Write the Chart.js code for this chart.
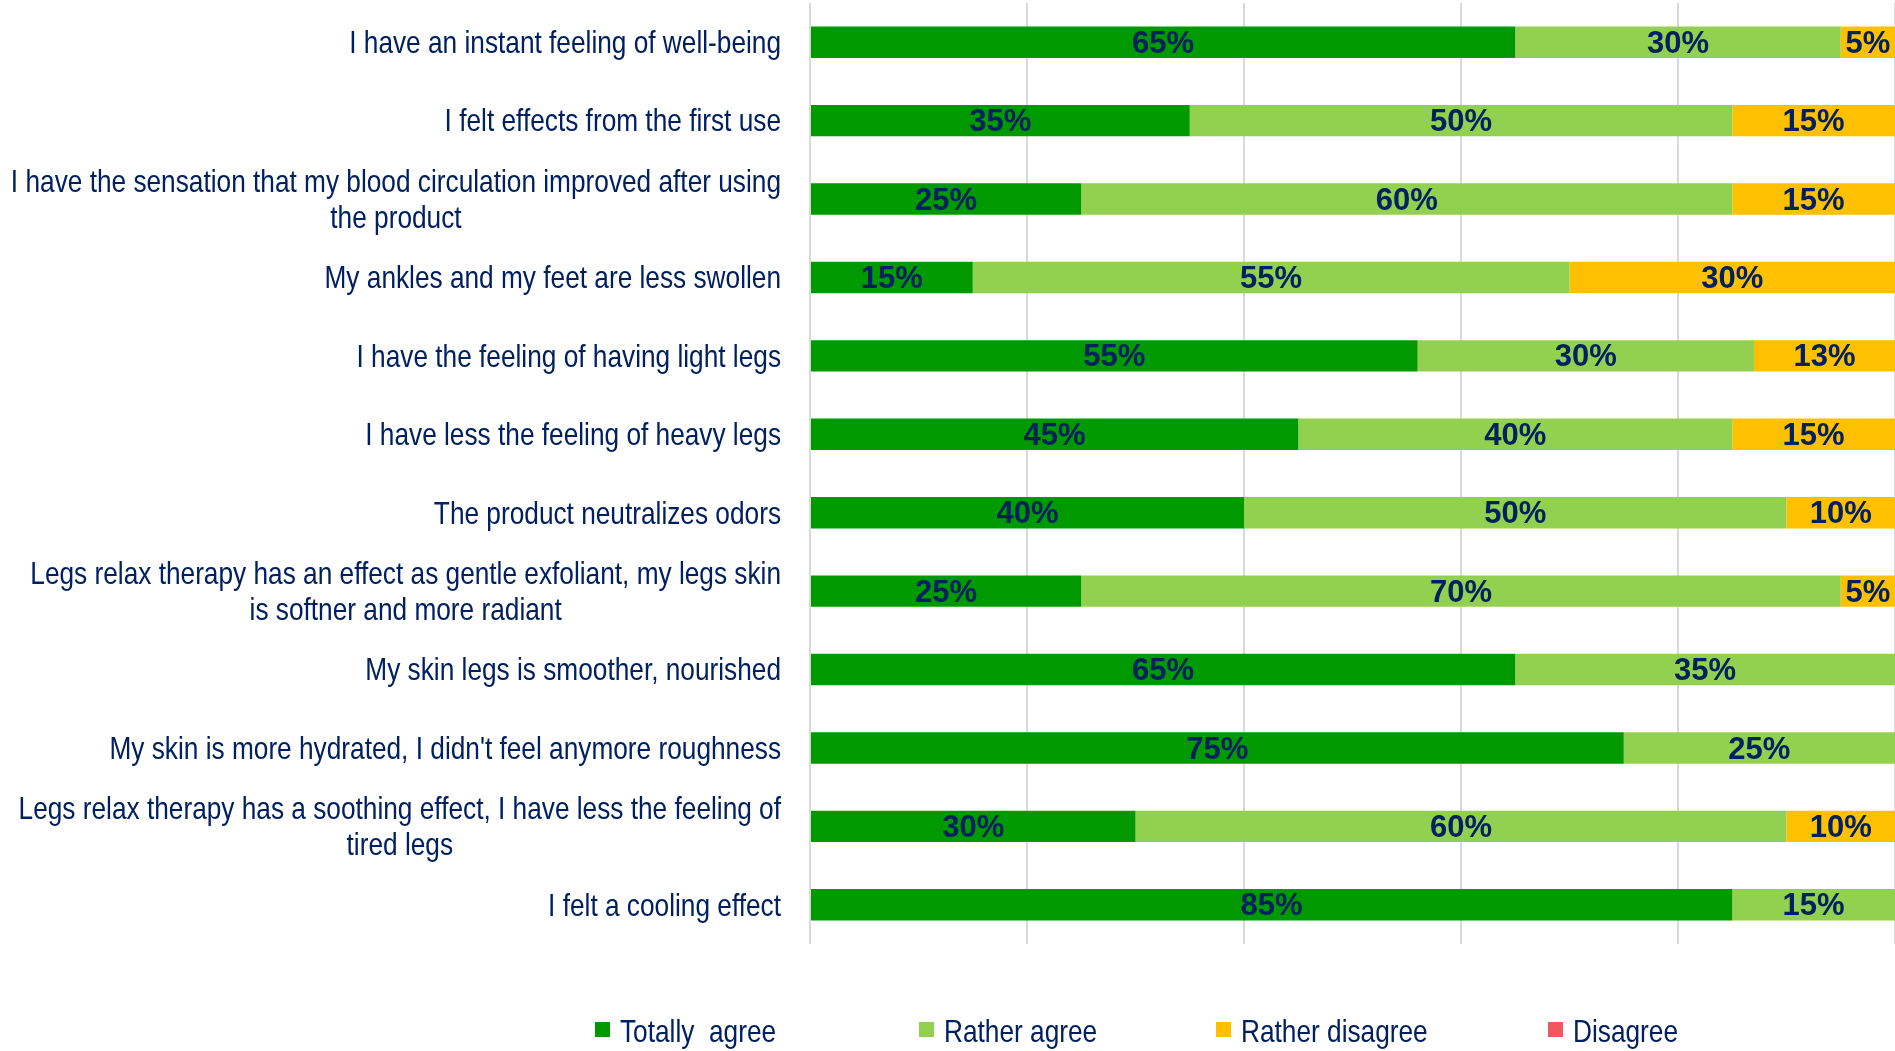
<!DOCTYPE html>
<html>
<head>
<meta charset="utf-8">
<title>Legs relax therapy - consumer test</title>
<script src="https://cdn.jsdelivr.net/npm/chart.js@4.4.1/dist/chart.umd.min.js"></script>
<style>
    html, body { margin: 0; padding: 0; background: #fff; overflow: hidden; }
    #wrap { position: relative; width: 1895px; height: 1051px; }
    #legend { position: absolute; left: 0; top: 1013px; width: 1895px; height: 38px; }
    .legend-item {
        position: absolute; top: 0; white-space: pre;
        font: 32px "Liberation Sans", Arial, sans-serif;
        line-height: 36px; color: #002060;
    }
    .legend-box { position: absolute; left: 0; top: 9px; width: 15px; height: 15px; }
    .legend-text { position: absolute; left: 25px; top: 0; transform: scaleX(0.82); transform-origin: left center; }
</style>
</head>
<body>
<div id="wrap">
    <canvas id="surveyChart"></canvas>
    <div id="legend"></div>
</div>
<script>
// Statements (multi-line ones as arrays)
const statements = [
    'I have an instant feeling of well-being',
    'I felt effects from the first use',
    ['I have the sensation that my blood circulation improved after using', 'the product'],
    'My ankles and my feet are less swollen',
    'I have the feeling of having light legs',
    'I have less the feeling of heavy legs',
    'The product neutralizes odors',
    ['Legs relax therapy has an effect as gentle exfoliant, my legs skin', 'is softner and more radiant'],
    'My skin legs is smoother, nourished',
    "My skin is more hydrated, I didn't feel anymore roughness",
    ['Legs relax therapy has a soothing effect, I have less the feeling of', 'tired legs'],
    'I felt a cooling effect'
];

// Bar lengths (%)
const totallyAgree    = [65, 35, 25, 15, 56, 45, 40, 25, 65, 75, 30, 85];
const ratherAgree     = [30, 50, 60, 55, 31, 40, 50, 70, 35, 25, 60, 15];
const ratherDisagree  = [5, 15, 15, 30, 13, 15, 10, 5, 0, 0, 10, 0];
const disagree        = [0, 0, 0, 0, 0, 0, 0, 0, 0, 0, 0, 0];

// Printed values on the bars
const totallyAgreeText   = ['65%', '35%', '25%', '15%', '55%', '45%', '40%', '25%', '65%', '75%', '30%', '85%'];
const ratherAgreeText    = ['30%', '50%', '60%', '55%', '30%', '40%', '50%', '70%', '35%', '25%', '60%', '15%'];
const ratherDisagreeText = ['5%', '15%', '15%', '30%', '13%', '15%', '10%', '5%', '', '', '10%', ''];
const disagreeText       = ['', '', '', '', '', '', '', '', '', '', '', ''];

const seriesNames = ['Totally  agree', 'Rather agree', 'Rather disagree', 'Disagree'];
const seriesColors = ['#009900', '#92D050', '#FFC000', '#F0585F'];
const legendLeft = [595, 919, 1216, 1548];

const textColor = '#002060';
const narrow = 0.82; // Arial Narrow look, squeezed Liberation Sans

// Category labels drawn right-aligned, lines centred on each other
const statementLabels = {
    id: 'statementLabels',
    afterDraw(chart) {
        const ctx = chart.ctx;
        const yScale = chart.scales.y;
        const right = 781;
        const lineHeight = 36;
        ctx.save();
        ctx.font = '32px "Liberation Sans", Arial, sans-serif';
        ctx.fillStyle = textColor;
        ctx.textAlign = 'center';
        ctx.textBaseline = 'middle';
        chart.data.labels.forEach((label, i) => {
            const lines = Array.isArray(label) ? label : [label];
            const w = Math.max(...lines.map(l => ctx.measureText(l).width)) * narrow;
            const cx = right - w / 2;
            const cy = yScale.getPixelForValue(i) + 2;
            lines.forEach((line, k) => {
                ctx.save();
                ctx.translate(cx, cy + (k - (lines.length - 1) / 2) * lineHeight);
                ctx.scale(narrow, 1);
                ctx.fillText(line, 0, 0);
                ctx.restore();
            });
        });
        ctx.restore();
    }
};

// Value labels in the middle of each segment
const valueLabels = {
    id: 'valueLabels',
    afterDatasetsDraw(chart) {
        const ctx = chart.ctx;
        ctx.save();
        ctx.font = 'bold 31px "Liberation Sans", Arial, sans-serif';
        ctx.fillStyle = textColor;
        ctx.textAlign = 'center';
        ctx.textBaseline = 'middle';
        chart.data.datasets.forEach((ds, d) => {
            chart.getDatasetMeta(d).data.forEach((bar, i) => {
                const txt = ds.printed[i];
                if (!ds.data[i] || !txt) return;
                ctx.fillText(txt, (bar.x + bar.base) / 2, bar.y + 2);
            });
        });
        ctx.restore();
    }
};

const ctx = document.getElementById('surveyChart').getContext('2d');
const chart = new Chart(ctx, {
    type: 'bar',
    data: {
        labels: statements,
        datasets: [
            { label: seriesNames[0], data: totallyAgree, printed: totallyAgreeText, backgroundColor: seriesColors[0] },
            { label: seriesNames[1], data: ratherAgree, printed: ratherAgreeText, backgroundColor: seriesColors[1] },
            { label: seriesNames[2], data: ratherDisagree, printed: ratherDisagreeText, backgroundColor: seriesColors[2] },
            { label: seriesNames[3], data: disagree, printed: disagreeText, backgroundColor: seriesColors[3] }
        ]
    },
    options: {
        indexAxis: 'y',
        responsive: true,
        maintainAspectRatio: false,
        animation: false,
        categoryPercentage: 1,
        barPercentage: 0.4,
        layout: { padding: { top: 3, bottom: 107, left: 0, right: 0 } },
        scales: {
            x: {
                stacked: true,
                min: 0,
                max: 100,
                ticks: { display: false, stepSize: 20 },
                grid: { color: '#d9d9d9', lineWidth: 2, drawTicks: false },
                border: { display: false }
            },
            y: {
                stacked: true,
                ticks: { display: false },
                grid: { display: false, drawTicks: false },
                border: { display: false },
                afterFit(scale) { scale.width = 810; }
            }
        },
        plugins: {
            legend: { display: false },
            tooltip: { enabled: false }
        }
    },
    plugins: [valueLabels, statementLabels]
});

// Legend built from the datasets
const legendEl = document.getElementById('legend');
chart.data.datasets.forEach((ds, i) => {
    const item = document.createElement('div');
    item.className = 'legend-item';
    item.style.left = legendLeft[i] + 'px';
    const box = document.createElement('span');
    box.className = 'legend-box';
    box.style.background = ds.backgroundColor;
    const txt = document.createElement('span');
    txt.className = 'legend-text';
    txt.textContent = ds.label;
    item.appendChild(box);
    item.appendChild(txt);
    legendEl.appendChild(item);
});
</script>
</body>
</html>
